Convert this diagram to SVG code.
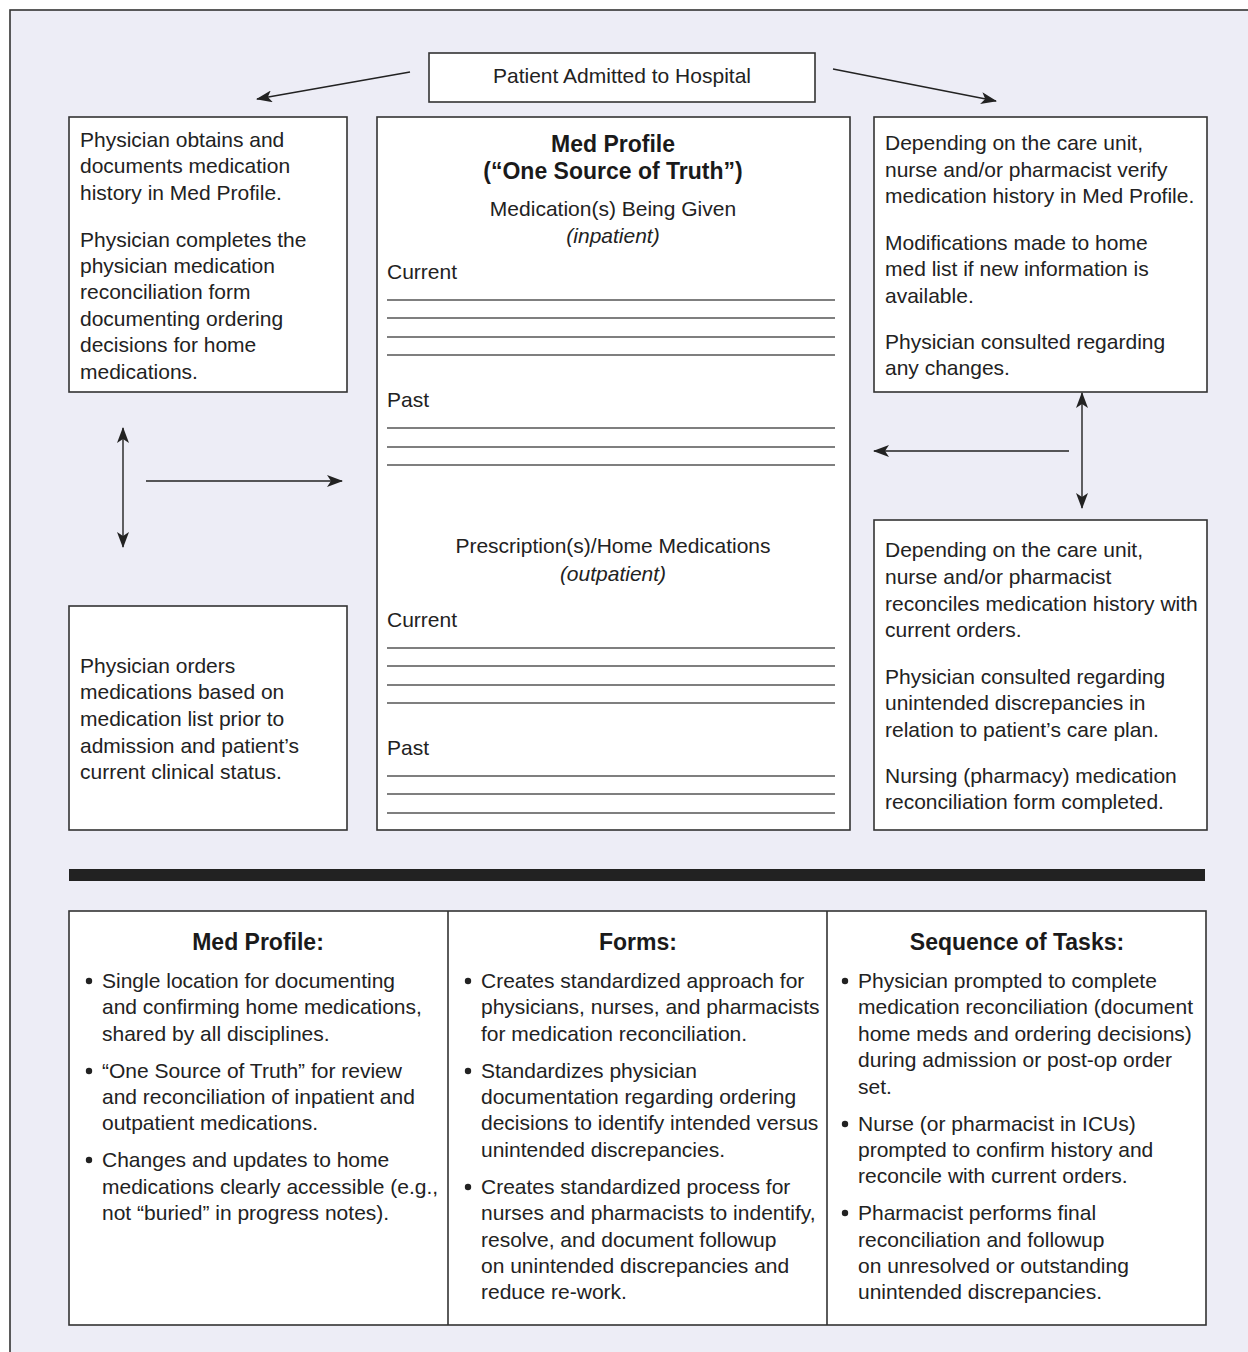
<svg xmlns="http://www.w3.org/2000/svg" width="1248" height="1352" viewBox="0 0 1248 1352">
<defs>
<style>
.bg{fill:#ededf6;stroke:#333;stroke-width:1.6}
.box{fill:#fff;stroke:#333;stroke-width:1.6}
.t{font-family:"Liberation Sans",Arial,sans-serif;font-size:21px;fill:#222}
.b{font-family:"Liberation Sans",Arial,sans-serif;font-size:23px;font-weight:bold;fill:#1a1a1a}
.i{font-style:italic}
.c{text-anchor:middle}
.rule{stroke:#555;stroke-width:1.3}
.con{stroke:#222;stroke-width:1.4;fill:none}
</style>
<marker id="ah" viewBox="0 0 16 12" refX="15" refY="6" markerWidth="16" markerHeight="12" markerUnits="userSpaceOnUse" orient="auto-start-reverse">
<path d="M0,0 L16,6 L0,12 L4,6 Z" fill="#222"/>
</marker>
</defs>
<rect x="0" y="0" width="1248" height="1352" fill="#fff"/>
<rect class="bg" x="10" y="10" width="1260" height="1370"/>

<g id="admitted">
<rect class="box" x="429" y="53" width="386" height="49"/>
<text class="t c" x="622" y="83">Patient Admitted to Hospital</text>
</g>

<g id="physician-obtains">
<rect class="box" x="69" y="117" width="278" height="275"/>
<text class="t"><tspan x="80" y="147">Physician obtains and</tspan><tspan x="80" y="173">documents medication</tspan><tspan x="80" y="200">history in Med Profile.</tspan><tspan x="80" y="247">Physician completes the</tspan><tspan x="80" y="273">physician medication</tspan><tspan x="80" y="299">reconciliation form</tspan><tspan x="80" y="326">documenting ordering</tspan><tspan x="80" y="352">decisions for home</tspan><tspan x="80" y="379">medications.</tspan></text>
</g>

<g id="med-profile">
<rect class="box" x="377" y="117" width="473" height="713"/>
<text class="b c" x="613" y="152">Med Profile</text>
<text class="b c" x="613" y="179">(“One Source of Truth”)</text>
<text class="t c" x="613" y="216">Medication(s) Being Given</text>
<text class="t c i" x="613" y="243">(inpatient)</text>
<text class="t" x="387" y="279">Current</text>
<g class="rule"><line x1="387" y1="300" x2="835" y2="300"/><line x1="387" y1="318" x2="835" y2="318"/><line x1="387" y1="337" x2="835" y2="337"/><line x1="387" y1="355" x2="835" y2="355"/></g>
<text class="t" x="387" y="407">Past</text>
<g class="rule"><line x1="387" y1="428" x2="835" y2="428"/><line x1="387" y1="447" x2="835" y2="447"/><line x1="387" y1="465" x2="835" y2="465"/></g>
<text class="t c" x="613" y="553">Prescription(s)/Home Medications</text>
<text class="t c i" x="613" y="581">(outpatient)</text>
<text class="t" x="387" y="627">Current</text>
<g class="rule"><line x1="387" y1="648" x2="835" y2="648"/><line x1="387" y1="666" x2="835" y2="666"/><line x1="387" y1="685" x2="835" y2="685"/><line x1="387" y1="703" x2="835" y2="703"/></g>
<text class="t" x="387" y="755">Past</text>
<g class="rule"><line x1="387" y1="776" x2="835" y2="776"/><line x1="387" y1="794" x2="835" y2="794"/><line x1="387" y1="813" x2="835" y2="813"/></g>
</g>

<g id="nurse-verify">
<rect class="box" x="874" y="117" width="333" height="275"/>
<text class="t"><tspan x="885" y="150">Depending on the care unit,</tspan><tspan x="885" y="177">nurse and/or pharmacist verify</tspan><tspan x="885" y="203">medication history in Med Profile.</tspan><tspan x="885" y="250">Modifications made to home</tspan><tspan x="885" y="276">med list if new information is</tspan><tspan x="885" y="303">available.</tspan><tspan x="885" y="349">Physician consulted regarding</tspan><tspan x="885" y="375">any changes.</tspan></text>
</g>

<g id="physician-orders">
<rect class="box" x="69" y="606" width="278" height="224"/>
<text class="t"><tspan x="80" y="673">Physician orders</tspan><tspan x="80" y="699">medications based on</tspan><tspan x="80" y="726">medication list prior to</tspan><tspan x="80" y="753">admission and patient’s</tspan><tspan x="80" y="779">current clinical status.</tspan></text>
</g>

<g id="nurse-reconcile">
<rect class="box" x="874" y="520" width="333" height="310"/>
<text class="t"><tspan x="885" y="557">Depending on the care unit,</tspan><tspan x="885" y="584">nurse and/or pharmacist</tspan><tspan x="885" y="611">reconciles medication history with</tspan><tspan x="885" y="637">current orders.</tspan><tspan x="885" y="684">Physician consulted regarding</tspan><tspan x="885" y="710">unintended discrepancies in</tspan><tspan x="885" y="737">relation to patient’s care plan.</tspan><tspan x="885" y="783">Nursing (pharmacy) medication</tspan><tspan x="885" y="809">reconciliation form completed.</tspan></text>
</g>

<g id="connectors">
<line class="con" x1="410" y1="72" x2="257" y2="99" marker-end="url(#ah)"/>
<line class="con" x1="833" y1="69" x2="996" y2="101" marker-end="url(#ah)"/>
<line class="con" x1="123" y1="428" x2="123" y2="547" marker-start="url(#ah)" marker-end="url(#ah)"/>
<line class="con" x1="146" y1="481" x2="342" y2="481" marker-end="url(#ah)"/>
<line class="con" x1="1082" y1="393" x2="1082" y2="508" marker-start="url(#ah)" marker-end="url(#ah)"/>
<line class="con" x1="1069" y1="451" x2="874" y2="451" marker-end="url(#ah)"/>
</g>

<rect id="divider-bar" x="69" y="869" width="1136" height="12" fill="#222"/>

<g id="summary-table">
<rect class="box" x="69" y="911" width="1137" height="414"/>
<line x1="448" y1="911" x2="448" y2="1325" stroke="#333" stroke-width="1.6"/>
<line x1="827" y1="911" x2="827" y2="1325" stroke="#333" stroke-width="1.6"/>
</g>

<g id="col-med-profile">
<text class="b c" x="258" y="950">Med Profile:</text>
<g fill="#222"><circle cx="89" cy="981" r="3.2"/><circle cx="89" cy="1071" r="3.2"/><circle cx="89" cy="1160" r="3.2"/></g>
<text class="t"><tspan x="102" y="988">Single location for documenting</tspan><tspan x="102" y="1014">and confirming home medications,</tspan><tspan x="102" y="1041">shared by all disciplines.</tspan><tspan x="102" y="1078">“One Source of Truth” for review</tspan><tspan x="102" y="1104">and reconciliation of inpatient and</tspan><tspan x="102" y="1130">outpatient medications.</tspan><tspan x="102" y="1167">Changes and updates to home</tspan><tspan x="102" y="1194">medications clearly accessible (e.g.,</tspan><tspan x="102" y="1220">not “buried” in progress notes).</tspan></text>
</g>

<g id="col-forms">
<text class="b c" x="638" y="950">Forms:</text>
<g fill="#222"><circle cx="468" cy="981" r="3.2"/><circle cx="468" cy="1071" r="3.2"/><circle cx="468" cy="1187" r="3.2"/></g>
<text class="t"><tspan x="481" y="988">Creates standardized approach for</tspan><tspan x="481" y="1014">physicians, nurses, and pharmacists</tspan><tspan x="481" y="1041">for medication reconciliation.</tspan><tspan x="481" y="1078">Standardizes physician</tspan><tspan x="481" y="1104">documentation regarding ordering</tspan><tspan x="481" y="1130">decisions to identify intended versus</tspan><tspan x="481" y="1157">unintended discrepancies.</tspan><tspan x="481" y="1194">Creates standardized process for</tspan><tspan x="481" y="1220">nurses and pharmacists to indentify,</tspan><tspan x="481" y="1247">resolve, and document followup</tspan><tspan x="481" y="1273">on unintended discrepancies and</tspan><tspan x="481" y="1299">reduce re-work.</tspan></text>
</g>

<g id="col-sequence">
<text class="b c" x="1017" y="950">Sequence of Tasks:</text>
<g fill="#222"><circle cx="845" cy="981" r="3.2"/><circle cx="845" cy="1124" r="3.2"/><circle cx="845" cy="1213" r="3.2"/></g>
<text class="t"><tspan x="858" y="988">Physician prompted to complete</tspan><tspan x="858" y="1014">medication reconciliation (document</tspan><tspan x="858" y="1041">home meds and ordering decisions)</tspan><tspan x="858" y="1067">during admission or post-op order</tspan><tspan x="858" y="1094">set.</tspan><tspan x="858" y="1131">Nurse (or pharmacist in ICUs)</tspan><tspan x="858" y="1157">prompted to confirm history and</tspan><tspan x="858" y="1183">reconcile with current orders.</tspan><tspan x="858" y="1220">Pharmacist performs final</tspan><tspan x="858" y="1247">reconciliation and followup</tspan><tspan x="858" y="1273">on unresolved or outstanding</tspan><tspan x="858" y="1299">unintended discrepancies.</tspan></text>
</g>
</svg>
